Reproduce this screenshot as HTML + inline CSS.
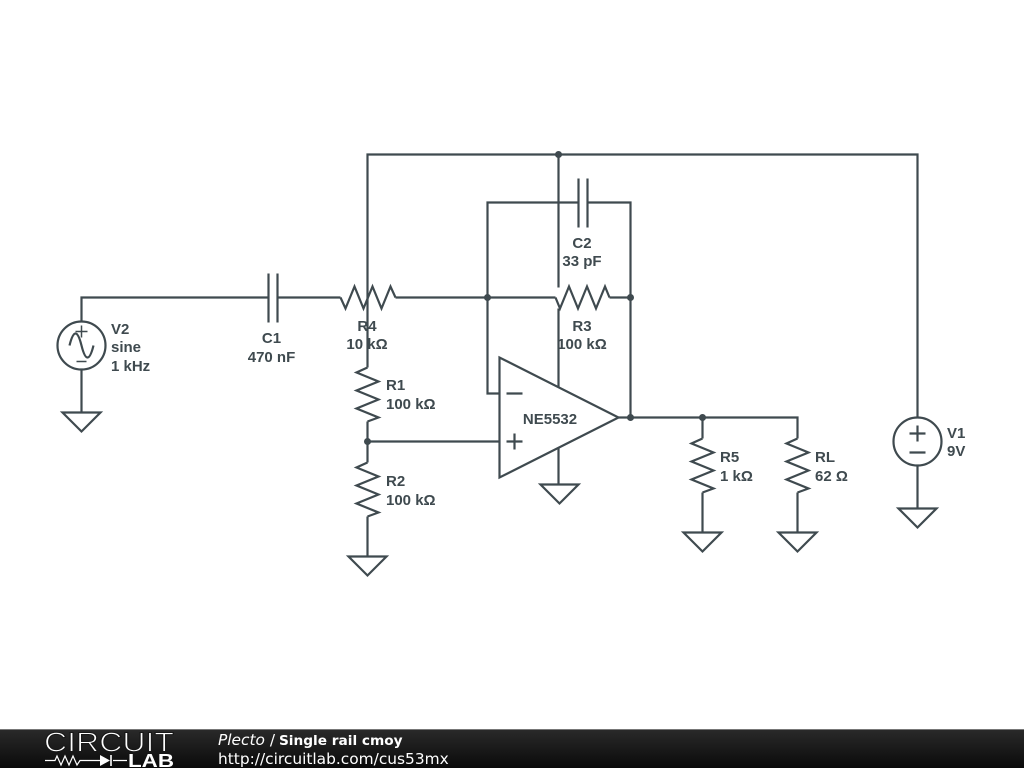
<!DOCTYPE html>
<html><head><meta charset="utf-8"><style>
html,body{margin:0;padding:0;background:#fff;width:1024px;height:768px;overflow:hidden}
svg{display:block}
.w{fill:none;stroke:#3f4a4f;stroke-width:2.2;stroke-linejoin:miter}
.t{font-family:"Liberation Sans",sans-serif;font-weight:bold;font-size:15px;fill:#3f4a4f}
.f{font-family:"DejaVu Sans",sans-serif;fill:#fff;font-size:15.4px}
</style></head><body>
<svg width="1024" height="768" viewBox="0 0 1024 768" xmlns="http://www.w3.org/2000/svg">
<defs><linearGradient id="g" x1="0" y1="0" x2="0" y2="1"><stop offset="0" stop-color="#2a2a2a"/><stop offset="1" stop-color="#0a0a0a"/></linearGradient></defs>
<rect width="1024" height="768" fill="#fff"/>
<g transform="translate(0.5,0.5)">
<g class="w">
<!-- wires -->
<path d="M367 367V154H917V417"/>
<path d="M558 154V287"/>
<path d="M558 308V387"/>
<path d="M81 321V297H268"/>
<path d="M277 297H340"/>
<path d="M395 297H555"/>
<path d="M609 297H630"/>
<path d="M499 393H487V202H578"/>
<path d="M587 202H630V417"/>
<path d="M618 417H797V438"/>
<path d="M702 417V438"/>
<path d="M367 421V462"/>
<path d="M367 441H499"/>
<path d="M367 516V556"/>
<path d="M558 447V484"/>
<path d="M702 492V532"/>
<path d="M797 492V532"/>
<path d="M81 369V412"/>
<path d="M917 465V508"/>
<!-- capacitors -->
<path d="M268 273V322M277 273V322"/>
<path d="M578 178V227M587 178V227"/>
<!-- resistors -->
<path d="M340 297L345 308L354 286L363 308L372 286L381 308L390 286L395 297"/>
<path d="M555 297L559.500 308L568.500 286L577.500 308L586.500 286L595.500 308L604.500 286L609 297"/>
<path d="M367 367L356 372L378 381L356 390L378 399L356 408L378 417L367 421"/>
<path d="M367 462L356 467L378 476L356 485L378 494L356 503L378 512L367 516"/>
<path d="M702 438L691 443L713 452L691 461L713 470L691 479L713 488L702 492"/>
<path d="M797 438L786 443L808 452L786 461L808 470L786 479L808 488L797 492"/>
<!-- opamp -->
<path d="M499 357V477L618 417Z" fill="#fff"/>
<path d="M506 393H522M506 441H522M514 433V449"/>
<!-- sources -->
<circle cx="81" cy="345" r="24"/>
<path d="M75 331H87M81 325V337M76 361H86" stroke-width="1.500"/>
<path d="M69 345C73 329 77 329 81 345C85 361 89 361 93 345"/>
<circle cx="917" cy="441" r="24"/>
<path d="M909 433H925M917 425V441M909 452H925"/>
<!-- grounds -->
<path d="M62 412H100L81 431Z"/>
<path d="M348 556H386L367 575Z"/>
<path d="M540 484H578L559 503Z"/>
<path d="M683 532H721L702 551Z"/>
<path d="M778 532H816L797 551Z"/>
<path d="M898 508H936L917 527Z"/>
</g>
<g fill="#3f4a4f">
<circle cx="558" cy="154" r="3.500"/>
<circle cx="487" cy="297" r="3.500"/>
<circle cx="630" cy="297" r="3.500"/>
<circle cx="630" cy="417" r="3.500"/>
<circle cx="702" cy="417" r="3.500"/>
<circle cx="367" cy="441" r="3.500"/>
</g>
</g>
<g class="t">
<text x="111" y="334">V2</text>
<text x="111" y="352">sine</text>
<text x="111" y="371">1 kHz</text>
<text x="271.500" y="343" text-anchor="middle">C1</text>
<text x="271.500" y="362" text-anchor="middle">470 nF</text>
<text x="367" y="331" text-anchor="middle">R4</text>
<text x="367" y="349" text-anchor="middle">10 kΩ</text>
<text x="582" y="248" text-anchor="middle">C2</text>
<text x="582" y="266" text-anchor="middle">33 pF</text>
<text x="582" y="331" text-anchor="middle">R3</text>
<text x="582" y="349" text-anchor="middle">100 kΩ</text>
<text x="386" y="390">R1</text>
<text x="386" y="409">100 kΩ</text>
<text x="386" y="486">R2</text>
<text x="386" y="505">100 kΩ</text>
<text x="550" y="424" text-anchor="middle">NE5532</text>
<text x="720" y="462">R5</text>
<text x="720" y="481">1 kΩ</text>
<text x="815" y="462">RL</text>
<text x="815" y="481">62 Ω</text>
<text x="947" y="438">V1</text>
<text x="947" y="456">9V</text>
</g>
<!-- footer -->
<rect x="0" y="729" width="1024" height="39" fill="url(#g)"/>
<rect x="0" y="729" width="1024" height="1" fill="#777"/>
<text x="44" y="751.500" textLength="130" lengthAdjust="spacingAndGlyphs" font-family="Liberation Sans,sans-serif" font-size="28" fill="#fff" stroke="#181818" stroke-width="1.100" paint-order="fill stroke">CIRCUIT</text>
<path d="M45 760.500H55L57 756L61 765L65 756L69 765L73 756L77 765L80 760.500H100M113 760.500H127" fill="none" stroke="#fff" stroke-width="1.200"/>
<path d="M100 755V766L110 760.500Z" fill="#fff"/>
<path d="M111 755V766" stroke="#fff" stroke-width="1.600"/>
<text x="128" y="767" textLength="46" lengthAdjust="spacingAndGlyphs" font-family="Liberation Sans,sans-serif" font-weight="bold" font-size="18" fill="#fff">LAB</text>
<text class="f" x="218" y="745"><tspan font-style="italic">Plecto</tspan> / <tspan dx="-1" font-weight="bold" font-size="13.700">Single rail cmoy</tspan></text>
<text class="f" x="218" y="764">http://circuitlab.com/cus53mx</text>
</svg>
</body></html>
